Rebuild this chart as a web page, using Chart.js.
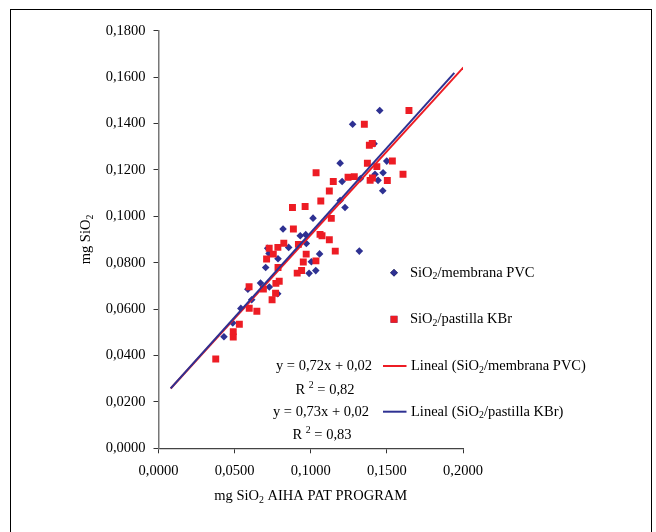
<!DOCTYPE html>
<html>
<head>
<meta charset="utf-8">
<script src="https://cdn.jsdelivr.net/npm/chart.js@4.4.1/dist/chart.umd.min.js"></script>
<style>
  html, body { margin: 0; padding: 0; background: #fff; }
</style>
</head>
<body>
<canvas id="chart" width="656" height="532"></canvas>
<script>
// SiO2 / membrana PVC (blue diamonds)
const pvcX = [0.1453, 0.1275, 0.1416, 0.1193, 0.1499, 0.1206, 0.1326, 0.1422, 0.1475, 0.1442,
              0.1473, 0.1193, 0.1225, 0.1015, 0.0818, 0.0931, 0.0967, 0.0971, 0.0855, 0.0717,
              0.0726, 0.0785, 0.0704, 0.1004, 0.1058, 0.1033, 0.0989, 0.0670, 0.0728, 0.0587,
              0.0783, 0.0612, 0.0541, 0.0488, 0.0430, 0.1319];
const pvcY = [0.1456, 0.1397, 0.1313, 0.1229, 0.1238, 0.1150, 0.1162, 0.1181, 0.1188, 0.1155,
              0.1110, 0.1068, 0.1038, 0.0992, 0.0945, 0.0916, 0.0921, 0.0883, 0.0866, 0.0862,
              0.0840, 0.0817, 0.0779, 0.0804, 0.0838, 0.0766, 0.0754, 0.0712, 0.0695, 0.0686,
              0.0666, 0.0640, 0.0603, 0.0540, 0.0481, 0.0850];

// SiO2 / pastilla KBr (red squares)
const kbrX = [0.1645, 0.1352, 0.1385, 0.1404, 0.1372, 0.1536, 0.1434, 0.1606, 0.1503, 0.1390,
              0.1405, 0.1035, 0.1148, 0.1245, 0.1286, 0.1122, 0.1066, 0.0963, 0.0880, 0.1135,
              0.0886, 0.1061, 0.1074, 0.1122, 0.1161, 0.0919, 0.0970, 0.0951, 0.1034, 0.0940,
              0.0911, 0.0823, 0.0784, 0.0727, 0.0754, 0.0710, 0.0785, 0.0793, 0.0771, 0.0689,
              0.0595, 0.0769, 0.0746, 0.0596, 0.0646, 0.0531, 0.0491, 0.0491, 0.0376];
const kbrY = [0.1456, 0.1397, 0.1306, 0.1314, 0.1229, 0.1238, 0.1214, 0.1181, 0.1154, 0.1155,
              0.1165, 0.1188, 0.1150, 0.1168, 0.1171, 0.1109, 0.1066, 0.1042, 0.1038, 0.0991,
              0.0945, 0.0922, 0.0916, 0.0899, 0.0850, 0.0879, 0.0837, 0.0803, 0.0808, 0.0766,
              0.0755, 0.0884, 0.0866, 0.0862, 0.0837, 0.0816, 0.0779, 0.0720, 0.0711, 0.0686,
              0.0696, 0.0668, 0.0640, 0.0604, 0.0591, 0.0535, 0.0503, 0.0480, 0.0385];

// linear trend lines: [PVC, KBr]
const fitSlope = [0.72, 0.73];
const fitIntercept = [0.02, 0.02];
const fitStart = [0.008, 0.008];
const fitEnd = [0.2003, 0.1943];
const fitR2 = ['0,82', '0,83'];

const xTicks = [0, 0.05, 0.1, 0.15, 0.2];
const yTicks = [0, 0.02, 0.04, 0.06, 0.08, 0.1, 0.12, 0.14, 0.16, 0.18];

const BLUE = 'rgb(46,49,146)';
const RED = 'rgb(237,28,36)';
const FONT = "'Liberation Serif', 'Times New Roman', serif";
const FS = 14.5;

const comma = v => v.toFixed(4).replace('.', ',');
const pts = (xs, ys) => xs.map((x, i) => ({ x: x, y: ys[i] }));
const fitLine = i => [fitStart[i], fitEnd[i]].map(x => ({ x: x, y: fitSlope[i] * x + fitIntercept[i] }));
const eqText = i => 'y = ' + fitSlope[i].toFixed(2).replace('.', ',') + 'x + ' + fitIntercept[i].toFixed(2).replace('.', ',');

// text with sub/superscripts: parts = [[text, ''|'sub'|'sup'], ...]
function drawRich(ctx, parts, x, y, align) {
    const small = FS * 0.68;
    let w = 0;
    parts.forEach(p => {
        ctx.font = (p[1] ? small : FS) + 'px ' + FONT;
        w += ctx.measureText(p[0]).width;
    });
    let cx = align === 'center' ? x - w / 2 : x;
    ctx.textAlign = 'left';
    ctx.textBaseline = 'middle';
    ctx.fillStyle = '#000';
    parts.forEach(p => {
        ctx.font = (p[1] ? small : FS) + 'px ' + FONT;
        const dy = p[1] === 'sub' ? FS * 0.28 : (p[1] === 'sup' ? -FS * 0.32 : 0);
        ctx.fillText(p[0], cx, y + dy);
        cx += ctx.measureText(p[0]).width;
    });
}

const decor = {
    id: 'decor',
    beforeDraw(chart) {
        const ctx = chart.ctx;
        ctx.save();
        ctx.strokeStyle = '#000';
        ctx.lineWidth = 1;
        ctx.strokeRect(10.5, 9.5, 641, 540);
        ctx.restore();
    },
    afterDraw(chart) {
        const ctx = chart.ctx;
        const area = chart.chartArea;
        ctx.save();
        // axis titles
        drawRich(ctx, [['mg SiO', ''], ['2', 'sub'], [' AIHA PAT PROGRAM', '']], (area.left + area.right) / 2, 496, 'center');
        ctx.save();
        ctx.translate(86, (area.top + area.bottom) / 2);
        ctx.rotate(-Math.PI / 2);
        drawRich(ctx, [['mg SiO', ''], ['2', 'sub']], 0, 0, 'center');
        ctx.restore();

        // legend: markers
        const ds = chart.data.datasets;
        const rows = [272.7, 319.3, 366, 411.7];
        [0, 1].forEach(i => {
            const d = ds[i];
            Chart.helpers.drawPoint(ctx, {
                pointStyle: d.pointStyle, radius: d.pointRadius, borderWidth: 0, rotation: 0
            }, 394, rows[i]);
            ctx.fillStyle = d.backgroundColor;
            ctx.fill();
        });
        drawRich(ctx, [['SiO', ''], ['2', 'sub'], ['/membrana PVC', '']], 410, rows[0], 'left');
        drawRich(ctx, [['SiO', ''], ['2', 'sub'], ['/pastilla KBr', '']], 410, rows[1], 'left');
        // legend: trend lines
        [2, 3].forEach((k, i) => {
            ctx.strokeStyle = ds[k].borderColor;
            ctx.lineWidth = 2;
            ctx.beginPath();
            ctx.moveTo(383, rows[k]);
            ctx.lineTo(406.5, rows[k]);
            ctx.stroke();
        });
        drawRich(ctx, [['Lineal (SiO', ''], ['2', 'sub'], ['/membrana PVC)', '']], 411, rows[2], 'left');
        drawRich(ctx, [['Lineal (SiO', ''], ['2', 'sub'], ['/pastilla KBr)', '']], 411, rows[3], 'left');

        // trend equations
        drawRich(ctx, [[eqText(0), '']], 324, 366, 'center');
        drawRich(ctx, [['R ', ''], ['2', 'sup'], [' = ' + fitR2[0], '']], 325, 390, 'center');
        drawRich(ctx, [[eqText(1), '']], 321, 411.7, 'center');
        drawRich(ctx, [['R ', ''], ['2', 'sup'], [' = ' + fitR2[1], '']], 322, 435, 'center');
        ctx.restore();
    }
};

new Chart(document.getElementById('chart'), {
    type: 'scatter',
    data: {
        datasets: [
            {
                label: 'SiO2/membrana PVC',
                data: pts(pvcX, pvcY),
                pointStyle: 'rectRot',
                pointRadius: 3.8,
                backgroundColor: BLUE,
                borderWidth: 0,
                order: 3
            },
            {
                label: 'SiO2/pastilla KBr',
                data: pts(kbrX, kbrY),
                pointStyle: 'rect',
                pointRadius: 4.9,
                backgroundColor: RED,
                borderWidth: 0,
                order: 2
            },
            {
                label: 'Lineal (SiO2/membrana PVC)',
                type: 'line',
                data: fitLine(0),
                borderColor: RED,
                borderWidth: 2,
                pointRadius: 0,
                fill: false,
                order: 1
            },
            {
                label: 'Lineal (SiO2/pastilla KBr)',
                type: 'line',
                data: fitLine(1),
                borderColor: BLUE,
                borderWidth: 2,
                pointRadius: 0,
                fill: false,
                order: 0
            }
        ]
    },
    options: {
        responsive: false,
        animation: false,
        events: [],
        layout: { padding: { left: 0, top: 30.7, right: 193, bottom: 0 } },
        plugins: { legend: { display: false }, tooltip: { enabled: false } },
        scales: {
            x: {
                type: 'linear',
                min: 0,
                max: 0.2,
                afterBuildTicks: s => { s.ticks = xTicks.map(v => ({ value: v })); },
                afterFit: s => { s.height = 83.7; },
                ticks: {
                    color: '#000',
                    padding: 9,
                    font: { family: FONT, size: FS },
                    callback: v => comma(v),
                    maxRotation: 0
                },
                grid: { drawOnChartArea: false, tickLength: 5, color: '#333' },
                border: { color: '#444', width: 1.3 }
            },
            y: {
                type: 'linear',
                min: 0,
                max: 0.18,
                afterBuildTicks: s => { s.ticks = yTicks.map(v => ({ value: v })); },
                afterFit: s => { s.width = 158.5; },
                ticks: {
                    color: '#000',
                    padding: 8,
                    font: { family: FONT, size: FS },
                    callback: v => comma(v)
                },
                grid: { drawOnChartArea: false, tickLength: 5, color: '#333' },
                border: { color: '#777', width: 1.5 }
            }
        }
    },
    plugins: [decor]
});
</script>
</body>
</html>
